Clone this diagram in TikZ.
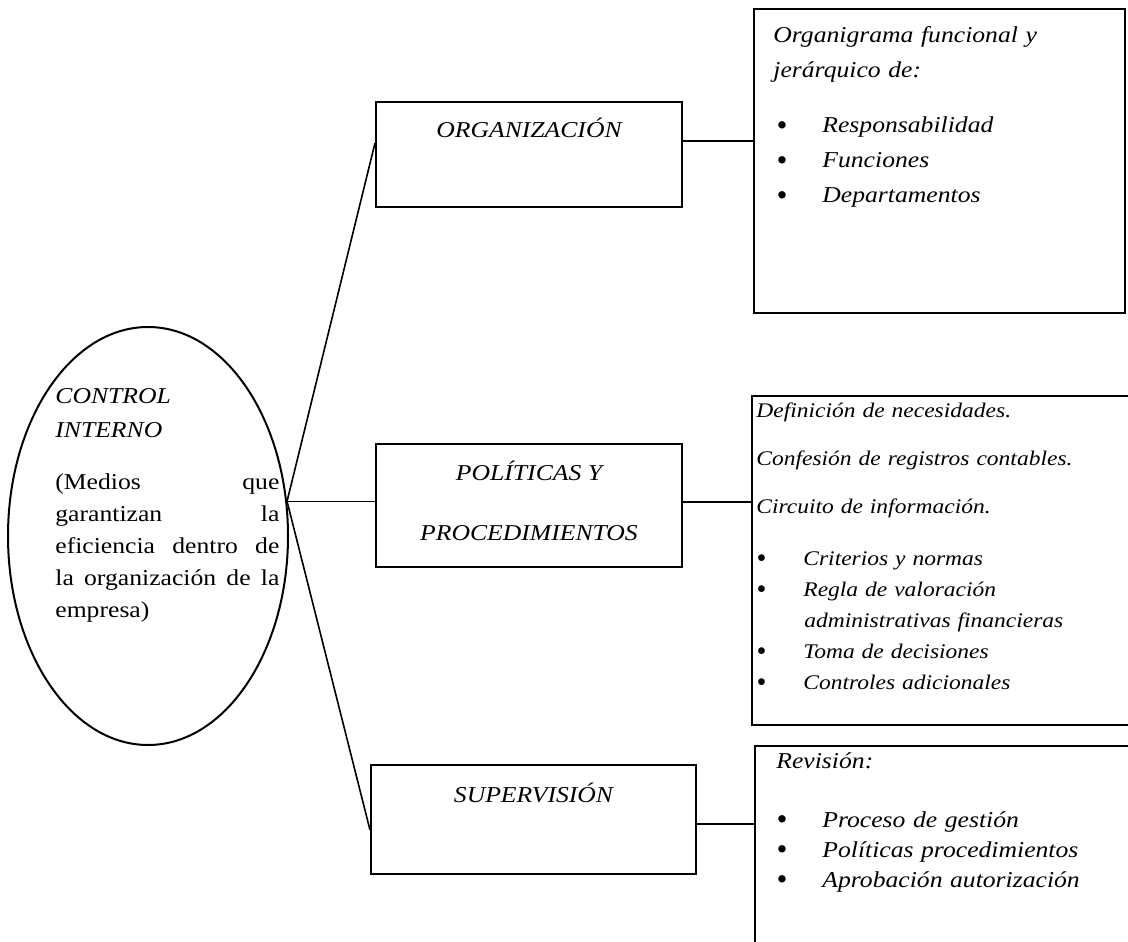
\documentclass[tikz,border=0pt]{standalone}
\usepackage{graphicx}
\usepackage{fontspec}
\setmainfont[FakeStretch=1.13]{Liberation Serif}
\usetikzlibrary{positioning,shapes.geometric}
\newcommand{\dotb}{\raisebox{-0.1em}{\scalebox{1.2}[1.36]{\textbullet}}}
\newcommand{\itm}[2][23pt]{\makebox[#1][l]{\dotb}#2}

\begin{document}
\begin{tikzpicture}[x=0.5pt, y=-0.5pt,
    mainbox/.style={draw, line width=1pt, inner sep=0pt, font=\itshape\fontsize{11.35}{30}\selectfont},
    detbox/.style={draw, line width=1pt, inner sep=0pt},
    conn/.style={line width=0.8pt},
    txt/.style={anchor=base west, inner sep=0pt, align=left}
  ]
  \path[use as bounding box, clip] (0,0) rectangle (1128,941);

  \node[ellipse, draw, line width=1pt, minimum width=140pt, minimum height=209pt, inner sep=0pt] (ctrl) at (148,536) {};
  \node[txt, text width=112pt, font=\fontsize{11.35}{16}\selectfont] (ctrltxt) at (55,403)
    {\textit{CONTROL}\\[1pt] \textit{INTERNO}\\[10pt]
     (Medios\hfill que\\ garantizan\hfill la\\ eficiencia\hfill dentro\hfill de\\
     la\hfill organización\hfill de\hfill la\\ empresa)};

  \node[mainbox, minimum width=153pt, text height=18pt, text depth=34.5pt] (org) at (529,154.5) {ORGANIZACIÓN};
  \node[mainbox, align=center, minimum width=153pt, text height=48pt, text depth=13.5pt] (pol) at (529,505.5) {POLÍTICAS Y\\PROCEDIMIENTOS};
  \node[mainbox, minimum width=162.5pt, text height=18.5pt, text depth=36pt] (sup) at (533.5,819.5) {SUPERVISIÓN};

  \node[detbox, minimum width=185.5pt, minimum height=152pt, right=35pt of org, yshift=-3.25pt] (orgdet) {};
  \node[detbox, minimum width=195pt, minimum height=164.5pt, right=34pt of pol, yshift=-27.5pt] (poldet) {};
  \node[detbox, minimum width=193.5pt, minimum height=107pt, right=28.5pt of sup, yshift=-16.75pt] (supdet) {};

  \node[txt, text width=170pt, font=\itshape\fontsize{11.35}{17.5}\selectfont] (orgtxt) at (773,43)
    {Organigrama funcional y\\ jerárquico de:\\[10pt]
     \hspace*{1.5pt}\itm{Responsabilidad}\\ \hspace*{1.5pt}\itm{Funciones}\\ \hspace*{1.5pt}\itm{Departamentos}};
  \node[txt, text width=186pt, font=\itshape\fontsize{10.4}{15.5}\selectfont] (poltxt) at (756,417)
    {Definición de necesidades.\\[8.5pt] Confesión de registros contables.\\[8.5pt] Circuito de información.\\[10.5pt]
     \itm[23.5pt]{Criterios y normas}\\ \itm[23.5pt]{Regla de valoración}\\ \hspace*{24pt}administrativas financieras\\
     \itm[23.5pt]{Toma de decisiones}\\ \itm[23.5pt]{Controles adicionales}};
  \node[txt, text width=170pt, font=\itshape\fontsize{11.35}{15}\selectfont] (suptxt) at (776,768)
    {Revisión:\\[14.5pt] \itm{Proceso de gestión}\\ \itm{Políticas procedimientos}\\ \itm{Aprobación autorización}};

  \draw[conn] (ctrl.14) -- ([yshift=5.75pt]org.west);
  \draw[conn] (ctrl.14) -- (ctrl.14 -| pol.west);
  \draw[conn] (ctrl.14) -- ([yshift=-5.25pt]sup.west);
  \draw[conn] ([yshift=6.75pt]org.east) coordinate (oe) -- (oe -| orgdet.west);
  \draw[conn] ([yshift=1.75pt]pol.east) coordinate (pe) -- (pe -| poldet.west);
  \draw[conn] ([yshift=-2.25pt]sup.east) coordinate (se) -- (se -| supdet.west);
\end{tikzpicture}
\end{document}
